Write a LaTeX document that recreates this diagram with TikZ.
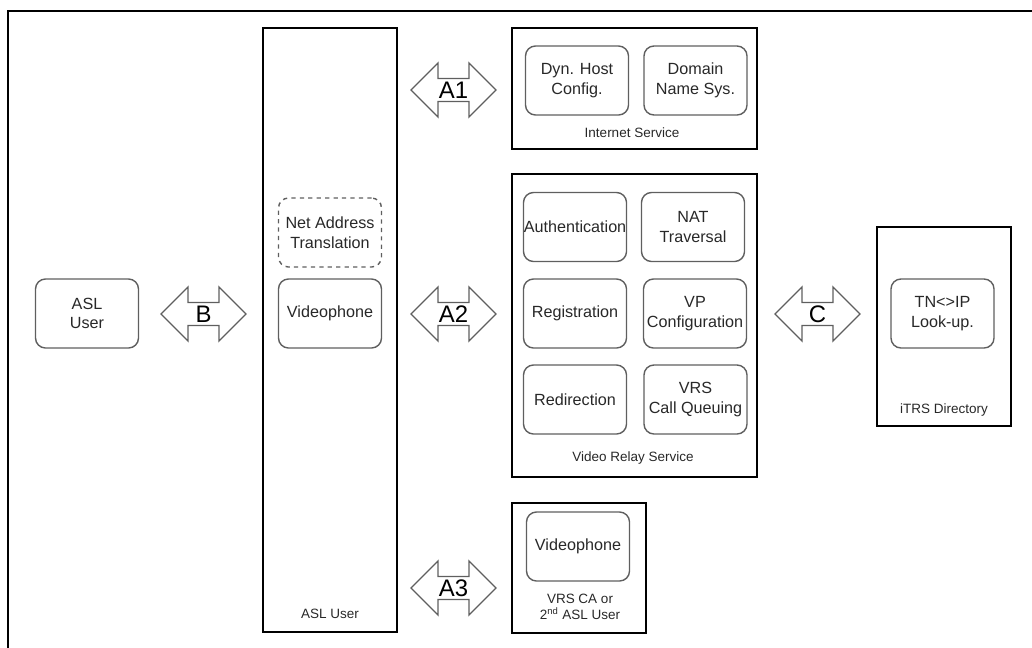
\documentclass[tikz,border=0pt]{standalone}
\usepackage{fontspec}
\setmainfont{Liberation Sans}
\usetikzlibrary{shapes.arrows, positioning}
\definecolor{boxgray}{RGB}{95,95,95}
\definecolor{txtgray}{RGB}{40,40,40}
\tikzset{
  unit/.style={draw=boxgray, line width=1pt, rounded corners=0.25cm, minimum width=2.575cm, minimum height=1.725cm, inner xsep=0pt, align=center, text=txtgray, font=\fontsize{11.5}{14}\selectfont},
  group/.style={draw=black, line width=1.4pt, inner sep=0pt},
  caption/.style={text=txtgray, align=center, font=\fontsize{9.6}{14}\selectfont},
  link/.style={double arrow, draw=boxgray, line width=0.9pt, double arrow tip angle=90, minimum height=2.125cm, minimum width=1.35cm, double arrow head extend=0.35cm, inner sep=1pt, font=\fontsize{17}{17}\selectfont}
}
\begin{document}
\begin{tikzpicture}[x=0.025cm, y=-0.025cm]
\clip (0,0) rectangle (1032,647);
%outer frame
\draw[line width=2.1pt] (8,700) -- (8,11) -- (1100,11);
%groups
\node[group, minimum width=3.35cm, minimum height=15.1cm] (usercol) at (330,330) {};
\node[group, minimum width=6.125cm, minimum height=3.025cm] (inet) at (634.5,88.5) {};
\node[group, minimum width=6.125cm, minimum height=7.575cm] (vrs) at (634.5,325.5) {};
\node[group, minimum width=3.35cm, minimum height=4.975cm] (itrs) at (944,326.5) {};
\node[group, minimum width=3.35cm, minimum height=3.25cm] (ca) at (579,568) {};
\node[caption] (usercap) at (330,614) {ASL User};
\node[caption] (inetcap) at (632,133) {Internet Service};
\node[caption] (vrscap) at (633,458) {Video Relay Service};
\node[caption] (itrscap) at (944,410) {iTRS Directory};
\node[caption, font=\fontsize{9.6}{11.5}\selectfont] (cacap) at (580,607) {VRS CA or\\2\textsuperscript{nd} ASL User};
%units
\node[unit] (asl) at (87,313.5) {ASL\\User};
\node[unit, dashed] (nat) at (330,232.5) {Net Address\\Translation};
\node[unit] (vp) at (330,313.5) {Videophone};
\node[unit] (dhcp) at (577,80.5) {Dyn. Host\\Config.};
\node[unit] (dns) at (695.5,80.5) {Domain\\Name Sys.};
\node[unit] (auth) at (575,227) {Authentication};
\node[unit] (natt) at (693,227) {NAT\\Traversal};
\node[unit] (reg) at (575,313.5) {Registration};
\node[unit] (vpc) at (695,313.5) {VP\\Configuration};
\node[unit] (redir) at (575,399.5) {Redirection};
\node[unit] (queue) at (695.5,399.5) {VRS\\Call Queuing};
\node[unit] (lookup) at (942.5,313.5) {TN<>IP\\Look-up.};
\node[unit] (vp2) at (578,546.5) {Videophone};
%interfaces
\node[link] (b) at (203.5,314) {B};
\node[link] (a1) at (453.5,90) {A1};
\node[link] (a2) at (453.5,314) {A2};
\node[link] (a3) at (453.5,588) {A3};
\node[link] (c) at (817.5,314) {C};
\end{tikzpicture}
\end{document}
